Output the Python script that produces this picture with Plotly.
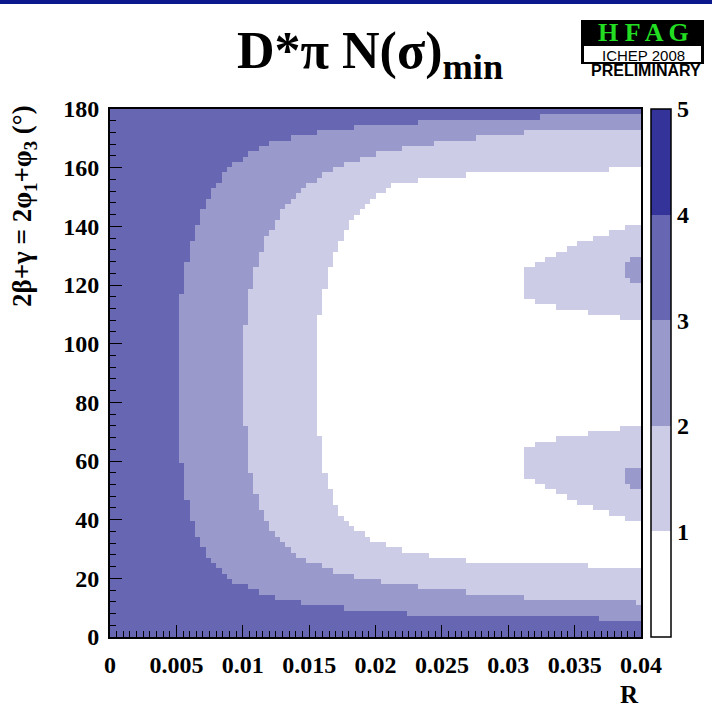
import numpy as np
import plotly.graph_objects as go

# ---------------- data ----------------
# Boundary of region N(sigma)_min < 3 (R, 2beta+gamma)
N3_R = [0.0400, 0.0324, 0.02335, 0.01657, 0.01266, 0.01017, 0.00881, 0.00768, 0.00693,
        0.00618, 0.00565, 0.00535, 0.00512, 0.00505, 0.00512, 0.00535, 0.0058, 0.0064,
        0.00753, 0.00904, 0.01168, 0.01507, 0.02185, 0.02938, 0.0400]
N3_PHI = [177.6, 177.3, 175.6, 172.9, 169.4, 164.3, 159.0, 152.4, 145.6, 135.3, 125.1, 114.9,
          104.7, 90.0, 74.0, 60.3, 46.7, 36.5, 26.2, 19.4, 14.3, 10.9, 8.2, 6.8, 6.1]
# Boundary of region N < 2
N2_R = [0.0400, 0.0339, 0.02938, 0.02335, 0.01959, 0.01657, 0.01431, 0.01303, 0.01168,
        0.01092, 0.0104, 0.01017, 0.0101, 0.01017, 0.0104, 0.01107, 0.01205, 0.01394,
        0.01657, 0.01959, 0.02486, 0.03164, 0.0400]
N2_PHI = [173.2, 172.9, 171.1, 167.7, 164.3, 159.2, 152.4, 145.6, 135.3, 125.1, 114.9, 104.7,
          90.0, 74.0, 60.3, 46.7, 36.5, 28.0, 22.8, 19.4, 16.0, 13.3, 11.6]
# Boundary of region N < 1
N1_R = [0.0400, 0.02938, 0.02411, 0.02147, 0.01959, 0.01823, 0.01733, 0.01657, 0.01597,
        0.01567, 0.01552, 0.01567, 0.01597, 0.01680, 0.01770, 0.01959, 0.02185, 0.02637, 0.0400]
N1_PHI = [159.6, 158.2, 156.8, 154.1, 149.0, 142.2, 135.3, 125.1, 114.9, 104.7, 90.0, 74.0,
          60.3, 46.7, 39.9, 33.1, 29.7, 26.2, 23.5]
# Islands with 1 <= N < 2 inside the N < 1 region
ISL_UP_R = [0.0400, 0.0370, 0.0340, 0.0314, 0.0314, 0.0340, 0.0370, 0.0400]
ISL_UP_PHI = [141.5, 137.0, 131.9, 125.8, 114.9, 112.2, 109.8, 108.1]
ISL_LO_R = [0.0400, 0.0370, 0.0340, 0.0314, 0.0314, 0.0340, 0.0370, 0.0400]
ISL_LO_PHI = [71.9, 70.2, 67.8, 65.1, 54.2, 48.1, 43.0, 38.5]
# Small spots with 2 <= N < 3 inside the islands
SPOT_UP_R = [0.0400, 0.0394, 0.0394, 0.0389, 0.0389, 0.0394, 0.0394, 0.0400]
SPOT_UP_PHI = [129.0, 129.0, 127.0, 127.0, 123.0, 123.0, 121.5, 121.5]
SPOT_LO_R = [0.0400, 0.0394, 0.0394, 0.0389, 0.0389, 0.0394, 0.0394, 0.0400]
SPOT_LO_PHI = [58.5, 58.5, 57.0, 57.0, 53.0, 53.0, 51.0, 51.0]

X_TICKS = [0, 0.005, 0.01, 0.015, 0.02, 0.025, 0.03, 0.035, 0.04]
X_TICKTEXT = ["0", "0.005", "0.01", "0.015", "0.02", "0.025", "0.03", "0.035", "0.04"]
Y_TICKS = [0, 20, 40, 60, 80, 100, 120, 140, 160, 180]
CB_TICKS = [1, 2, 3, 4, 5]

# ---------------- grid ----------------
NX, NY = 100, 100
r_c = (np.arange(NX) + 0.5) * 0.04 / NX
p_c = (np.arange(NY) + 0.5) * 180.0 / NY
RR, PP = np.meshgrid(r_c, p_c)


def inside(vx, vy, close_right=True):
    vx = list(vx)
    vy = list(vy)
    if close_right:
        vx = vx + [0.05, 0.05]
        vy = vy + [vy[-1], vy[0]]
    vx = np.array(vx)
    vy = np.array(vy)
    res = np.zeros(RR.shape, dtype=bool)
    j = len(vx) - 1
    for i in range(len(vx)):
        dy = vy[j] - vy[i]
        if dy == 0:
            j = i
            continue
        cond = ((vy[i] > PP) != (vy[j] > PP)) & (RR < (vx[j] - vx[i]) * (PP - vy[i]) / dy + vx[i])
        res ^= cond
        j = i
    return res


z = np.full(RR.shape, 3.5)
z[inside(N3_R, N3_PHI)] = 2.5
z[inside(N2_R, N2_PHI)] = 1.5
z[inside(N1_R, N1_PHI)] = 0.5
z[inside(ISL_UP_R, ISL_UP_PHI)] = 1.5
z[inside(ISL_LO_R, ISL_LO_PHI)] = 1.5
z[inside(SPOT_UP_R, SPOT_UP_PHI)] = 2.5
z[inside(SPOT_LO_R, SPOT_LO_PHI)] = 2.5

C0, C1, C2, C3, C4 = "#ffffff", "#ccccE6", "#9999cc", "#6666b3", "#333399"
cscale = [[0.0, C0], [0.2, C0], [0.2, C1], [0.4, C1], [0.4, C2], [0.6, C2],
          [0.6, C3], [0.8, C3], [0.8, C4], [1.0, C4]]

# ---------------- layout geometry ----------------
W, H = 712, 708
L, T, Rr, B = 110, 109, 641, 637
PW, PH = Rr - L, B - T


def px(xp):
    return (xp - L) / PW


def py(yp):
    return (B - yp) / PH


SERIF = "Liberation Serif"
SANS = "Liberation Sans"

fig = go.Figure()
fig.add_trace(go.Heatmap(
    x=r_c, y=p_c, z=z, zmin=0, zmax=5, colorscale=cscale, zsmooth=False,
    hoverinfo="skip",
    colorbar=dict(
        x=px(651), xanchor="left", xpad=0, ypad=0, y=0.5, yanchor="middle",
        len=1, lenmode="fraction", thickness=20, thicknessmode="pixels",
        outlinecolor="black", outlinewidth=1.5,
        tickvals=CB_TICKS, ticktext=[str(v) for v in CB_TICKS], ticks="",
        tickfont=dict(family=SERIF, size=24, color="black", weight="bold"),
        ticklabelposition="outside",
    ),
))

shapes = []
# colorbar separators
for k in [1, 2, 3, 4]:
    shapes.append(dict(type="line", xref="paper", yref="paper",
                       x0=px(651), x1=px(671), y0=k / 5, y1=k / 5,
                       line=dict(color="black", width=1.3)))
# top blue bar
shapes.append(dict(type="rect", xref="paper", yref="paper", x0=px(0), x1=px(W),
                   y0=py(4), y1=py(0), fillcolor="#0c198c", line=dict(width=0)))
# HFAG logo
shapes.append(dict(type="rect", xref="paper", yref="paper", x0=px(581), x1=px(704),
                   y0=py(64), y1=py(20), fillcolor="black", line=dict(width=0)))
shapes.append(dict(type="rect", xref="paper", yref="paper", x0=px(584), x1=px(701),
                   y0=py(62), y1=py(46), fillcolor="white", line=dict(width=0)))

annotations = [
    dict(text="D*π N(σ)<sub>min</sub>", xref="paper", yref="paper", x=px(370), y=py(55),
         xanchor="center", yanchor="middle", showarrow=False,
         font=dict(family=SERIF, size=52, color="black", weight="bold")),
    dict(text="2β+γ = 2φ<sub>1</sub>+φ<sub>3</sub> (°)", xref="paper", yref="paper",
         x=px(24), y=py(103), xanchor="center", yanchor="top", textangle=-90, showarrow=False,
         font=dict(family=SERIF, size=27, color="black", weight="bold")),
    dict(text="R", xref="paper", yref="paper", x=px(641), y=py(679), xanchor="right",
         yanchor="top", showarrow=False,
         font=dict(family=SERIF, size=25, color="black", weight="bold")),
    dict(text="H F A G", xref="paper", yref="paper", x=px(643), y=py(31.5), xanchor="center",
         yanchor="middle", showarrow=False, height=22,
         font=dict(family=SERIF, size=26, color="#22dd22", weight="bold")),
    dict(text="ICHEP 2008", xref="paper", yref="paper", x=px(643), y=py(55), xanchor="center",
         yanchor="middle", showarrow=False, height=14,
         font=dict(family=SANS, size=15, color="black")),
    dict(text="PRELIMINARY", xref="paper", yref="paper", x=px(646), y=py(71), xanchor="center",
         yanchor="middle", showarrow=False, height=13,
         font=dict(family=SANS, size=16, color="black", weight="bold")),
]

axis_common = dict(showgrid=False, zeroline=False, showline=True, linecolor="black",
                   linewidth=2, mirror=True, ticks="inside", tickcolor="black",
                   tickwidth=1.3, ticklen=12,
                   tickfont=dict(family=SERIF, size=24, color="black", weight="bold"))

fig.update_layout(
    width=W, height=H, margin=dict(l=L, r=W - Rr, t=T, b=H - B, pad=0),
    paper_bgcolor="white", plot_bgcolor="white", showlegend=False,
    shapes=shapes, annotations=annotations,
    xaxis=dict(range=[0, 0.04], tickvals=X_TICKS, ticktext=X_TICKTEXT,
               minor=dict(ticks="inside", ticklen=6, dtick=0.0005, tick0=0,
                          tickcolor="black", tickwidth=1),
               ticklabelstandoff=5, **axis_common),
    yaxis=dict(range=[0, 180], tickvals=Y_TICKS,
               minor=dict(ticks="inside", ticklen=6, dtick=4, tick0=0,
                          tickcolor="black", tickwidth=1),
               ticklabelstandoff=4, **axis_common),
)

fig.write_html("out.html")
